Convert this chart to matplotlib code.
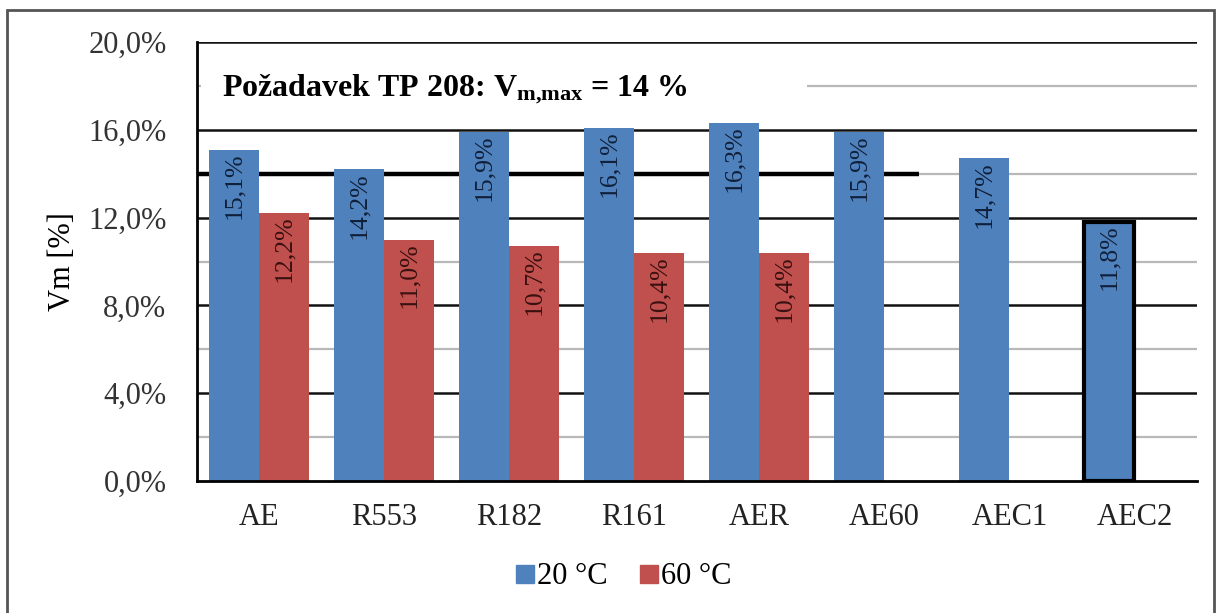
import matplotlib.pyplot as plt
import numpy as np
from matplotlib.patches import Rectangle
from matplotlib.lines import Line2D

plt.rcParams['font.family'] = ['Liberation Serif', 'DejaVu Serif']
plt.rcParams['mathtext.fontset'] = 'custom'
plt.rcParams['mathtext.rm'] = 'Liberation Serif:bold'
plt.rcParams['mathtext.it'] = 'Liberation Serif:bold'
plt.rcParams['mathtext.bf'] = 'Liberation Serif:bold'

# data
vzorky = ["AE", "R553", "R182", "R161", "AER", "AE60", "AEC1", "AEC2"]
vm_20 = [15.1, 14.2, 15.9, 16.1, 16.3, 15.9, 14.7, 11.8]
vm_60 = [12.2, 11.0, 10.7, 10.4, 10.4]
limit_tp208 = 14.0
yticks = [0, 4, 8, 12, 16, 20]
yticks_minor = [2, 6, 10, 14, 18]

modra = "#4F81BD"
cervena = "#C0504D"

fig = plt.figure(figsize=(12.21, 6.13), dpi=100)
ax = fig.add_axes([0.1613, 0.2153, 0.819, 0.7162])

# ramecek kolem grafu
fig.patches.append(Rectangle((0.006, -0.01), 0.988, 0.994, transform=fig.transFigure,
                             fill=False, edgecolor="#555555", lw=2))

x = np.arange(len(vzorky))
sirka = 0.4

# mrizka
for g in yticks_minor:
    ax.axhline(g, color="#b8b8b8", lw=1.6, zorder=0)
for g in yticks[1:]:
    ax.axhline(g, color="#111111", lw=1.8, zorder=0)

# bila plocha pod textem
ax.add_patch(Rectangle((-0.47, 16.4), 4.85, 3.25, facecolor="white", edgecolor="none", zorder=1))

# limit TP 208
ax.plot([-0.5, 5.28], [limit_tp208, limit_tp208], color="black", lw=3.2, zorder=1.5,
        solid_capstyle="butt")

b20 = ax.bar(x - sirka / 2, vm_20, width=sirka, color=modra, zorder=2)
b60 = ax.bar(x[:len(vm_60)] + sirka / 2, vm_60, width=sirka, color=cervena, zorder=2)

# AEC2 s cernym okrajem
b20[-1].set_edgecolor("black")
b20[-1].set_linewidth(3)

for xi, v in zip(x - sirka / 2, vm_20):
    ax.text(xi, v - 0.12, f"{v:.1f}%".replace(".", ","), rotation=90, ha="center", va="top",
            fontsize=18.5, color="#10203a", zorder=3)
for xi, v in zip(x[:len(vm_60)] + sirka / 2, vm_60):
    ax.text(xi, v - 0.12, f"{v:.1f}%".replace(".", ","), rotation=90, ha="center", va="top",
            fontsize=18.5, color="#3a1010", zorder=3)

ax.text(-0.3, 17.85, r"Požadavek TP 208: $\mathrm{V}_{\mathrm{m{,}max}}$ = 14 %", fontsize=23,
        fontweight="bold", va="center", ha="left", zorder=3)

ax.set_xlim(-0.5, 7.5)
ax.set_ylim(0, 20)
ax.set_yticks(yticks)
ax.set_yticklabels([f"{t:.1f}%".replace(".", ",") for t in yticks], fontsize=22, color="#333333")
ax.set_xticks(x)
ax.set_xticklabels(vzorky, fontsize=22, color="#222222")
ax.tick_params(axis="x", length=0, pad=16)
ax.tick_params(axis="y", length=0, pad=22)
ax.set_ylabel("Vm [%]", fontsize=22, labelpad=8)

for s in ["top", "right"]:
    ax.spines[s].set_visible(False)
ax.spines["left"].set_linewidth(2)
ax.spines["bottom"].set_linewidth(2)
ax.spines["bottom"].set_zorder(4)

handles = [Line2D([], [], marker="s", ls="", color=modra, markersize=13),
           Line2D([], [], marker="s", ls="", color=cervena, markersize=13)]
fig.legend(handles, ["20 °C", "60 °C"], loc="center", bbox_to_anchor=(0.51, 0.059), ncol=2,
           frameon=False, fontsize=22, handletextpad=0.05, columnspacing=1.0, handlelength=0.7)

fig.savefig("out.png", dpi=100)
